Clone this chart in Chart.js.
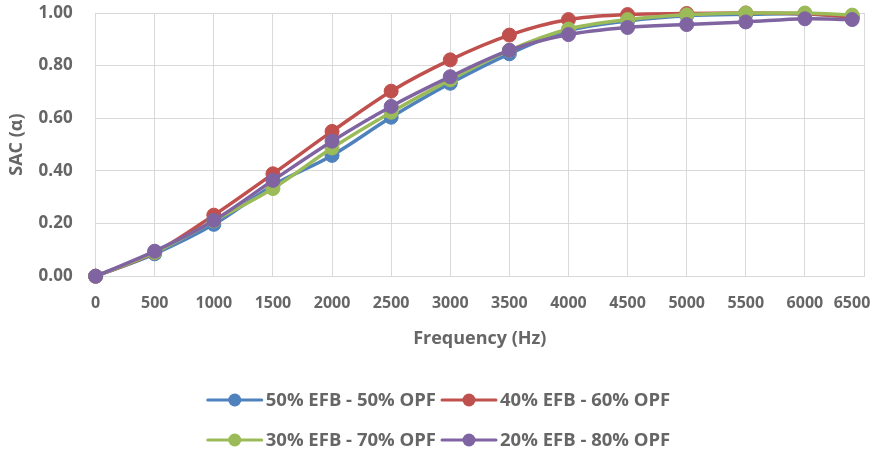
<!DOCTYPE html>
<html>
<head>
<meta charset="utf-8">
<title>SAC x Frequência</title>
<script src="https://cdn.jsdelivr.net/npm/chart.js@4.4.1/dist/chart.umd.min.js"></script>
<style>
	html, body { margin: 0; padding: 0; background: #fff; }
	#wrap { width: 878px; height: 452px; position: relative; }
</style>
</head>
<body>
<div id="wrap"><canvas id="sac-chart"></canvas></div>
<script>
// Frequências medidas (Hz)
const frequencias = [0, 500, 1000, 1500, 2000, 2500, 3000, 3500, 4000, 4500, 5000, 5500, 6000, 6400];

// Coeficiente de absorção sonora de cada mistura
const efb50 = [0, 0.085, 0.197, 0.345, 0.459, 0.604, 0.733, 0.845, 0.933, 0.970, 0.990, 0.995, 0.996, 0.985];
const efb40 = [0, 0.090, 0.232, 0.389, 0.550, 0.703, 0.822, 0.916, 0.975, 0.994, 0.998, 1.000, 0.997, 0.985];
const efb30 = [0, 0.090, 0.210, 0.333, 0.487, 0.623, 0.746, 0.858, 0.939, 0.975, 0.993, 1.000, 1.000, 0.992];
const efb20 = [0, 0.095, 0.212, 0.364, 0.513, 0.645, 0.758, 0.858, 0.918, 0.945, 0.956, 0.966, 0.978, 0.975];

const nomes = ["50% EFB - 50% OPF", "40% EFB - 60% OPF", "30% EFB - 70% OPF", "20% EFB - 80% OPF"];
const cores = ["#4F81BD", "#C0504D", "#9BBB59", "#8064A2"];

// Ticks do eixo
const ticksY = [0, 0.2, 0.4, 0.6, 0.8, 1.0];
const passoX = 500;
const maxX = 6500;

const fonte = "'Open Sans'";
const corTexto = "#666666";
const corGrade = "#D9D9D9";

const montarPontos = (valores) => valores.map((v, i) => ({ x: frequencias[i], y: v }));

const series = [efb50, efb40, efb30, efb20];
const datasets = series.map((valores, i) => ({
	label: nomes[i],
	data: montarPontos(valores),
	borderColor: cores[i],
	backgroundColor: cores[i],
	pointBackgroundColor: cores[i],
	pointBorderColor: cores[i],
	borderWidth: 3.5,
	pointRadius: 7,
	pointBorderWidth: 1,
	tension: 0.35,
	clip: false,
	// roxo por cima, azul por baixo
	order: series.length - 1 - i,
}));

// Legenda desenhada à mão: linha com marcador + texto, duas colunas
const legendaLinhas = {
	id: "legendaLinhas",
	afterDraw: (chart) => {
		const ctx = chart.ctx;
		const itens = chart.data.datasets;
		const largLinha = 54;
		const espaco = 4;
		const entreColunas = 6;
		const linhasY = [chart.height - 52, chart.height - 12];

		ctx.save();
		ctx.font = `bold 18.5px ${fonte}`;
		ctx.textBaseline = "middle";

		const larguraTexto = (i) => ctx.measureText(itens[i].label).width;
		const colunas = [
			largLinha + espaco + Math.max(larguraTexto(0), larguraTexto(2)),
			largLinha + espaco + Math.max(larguraTexto(1), larguraTexto(3)),
		];
		const total = colunas[0] + entreColunas + colunas[1];
		const inicio = (chart.width - total) / 2;

		itens.forEach((ds, i) => {
			const col = i % 2;
			const lin = Math.floor(i / 2);
			const x = inicio + (col === 0 ? 0 : colunas[0] + entreColunas);
			const y = linhasY[lin];

			ctx.strokeStyle = ds.borderColor;
			ctx.lineWidth = 3;
			ctx.lineCap = "round";
			ctx.beginPath();
			ctx.moveTo(x, y);
			ctx.lineTo(x + largLinha, y);
			ctx.stroke();

			ctx.fillStyle = ds.borderColor;
			ctx.beginPath();
			ctx.arc(x + largLinha / 2, y, 6.5, 0, Math.PI * 2);
			ctx.fill();

			ctx.fillStyle = corTexto;
			ctx.textAlign = "left";
			ctx.fillText(ds.label, x + largLinha + espaco, y + 1);
		});
		ctx.restore();
	},
};

const ctx = document.getElementById("sac-chart").getContext("2d");
new Chart(ctx, {
	type: "line",
	data: { datasets },
	plugins: [legendaLinhas],
	options: {
		responsive: true,
		maintainAspectRatio: false,
		animation: false,
		layout: {
			padding: { left: 6, right: 14, top: 13, bottom: 102 },
		},
		plugins: {
			legend: { display: false },
			tooltip: { enabled: false },
		},
		scales: {
			x: {
				type: "linear",
				min: 0,
				max: maxX,
				// o último rótulo fica recuado para caber na borda
				afterFit: (eixo) => {
					eixo.paddingRight = 0;
				},
				ticks: {
					stepSize: passoX,
					autoSkip: false,
					color: corTexto,
					font: { family: fonte, size: 16, weight: "bold" },
					padding: 0,
					maxRotation: 0,
					callback: (v) => (v === maxX ? `${v}\u2002\u2002\u2002` : String(v)),
				},
				grid: {
					color: corGrade,
					lineWidth: 1,
					drawTicks: true,
					tickLength: 18,
					tickColor: "rgba(0,0,0,0)",
				},
				border: { color: corGrade },
				title: {
					display: true,
					text: "Frequency (Hz)",
					color: corTexto,
					font: { family: fonte, size: 18, weight: "bold" },
					padding: { top: 15, bottom: 0 },
				},
			},
			y: {
				min: 0,
				max: 1,
				afterBuildTicks: (eixo) => {
					eixo.ticks = ticksY.map((v) => ({ value: v }));
				},
				ticks: {
					color: corTexto,
					font: { family: fonte, size: 17, weight: "bold" },
					padding: 0,
					callback: (v) => Number(v).toFixed(2),
				},
				grid: {
					color: corGrade,
					lineWidth: 1,
					drawTicks: true,
					tickLength: 23,
					tickColor: "rgba(0,0,0,0)",
				},
				border: { color: corGrade },
				title: {
					display: true,
					text: "SAC (α)",
					color: corTexto,
					font: { family: fonte, size: 18, weight: "bold" },
					padding: { top: 0, bottom: 11 },
				},
			},
		},
	},
});
</script>
</body>
</html>
